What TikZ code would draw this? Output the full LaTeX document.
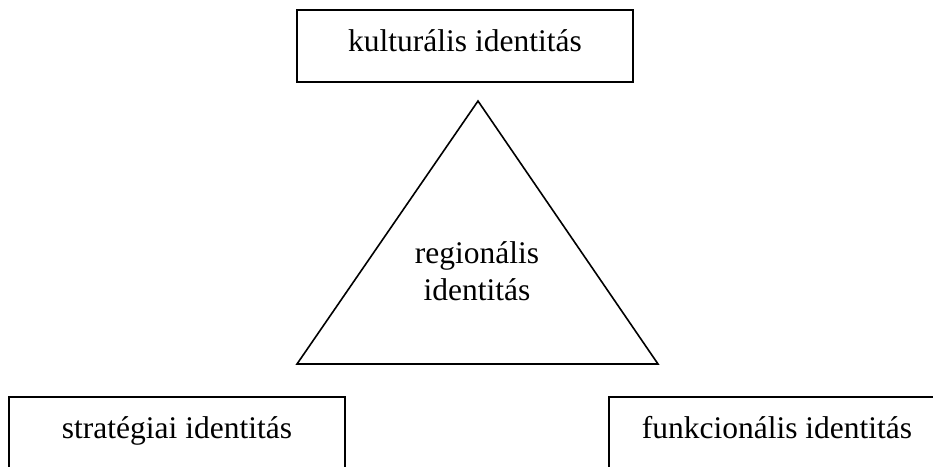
\documentclass[tikz,border=0pt]{standalone}
\usepackage{fontspec}
\setmainfont{Liberation Serif}
\tikzset{
  lbl/.style={font=\fontsize{31.5}{37}\selectfont, anchor=base, inner sep=0pt},
  ibox/.style={draw=black, line width=1.6pt},
  tri/.style={draw=black, line width=1.6pt, line join=miter}
}
\begin{document}
\begin{tikzpicture}[x=1pt,y=-1pt]
\useasboundingbox (0,0) rectangle (933,466);
% boxes
\draw[ibox] (297,10) rectangle (633,82);
\draw[ibox] (9,397) rectangle (345,469);
\draw[ibox] (609,397) rectangle (945,469);
% triangle
\draw[tri] (478,101) -- (297,364) -- (658,364) -- cycle;
% texts
\node[lbl] (kult) at (465,51) {kulturális identitás};
\node[lbl] (strat) at (177,438) {stratégiai identitás};
\node[lbl] (funk) at (777,438) {funkcionális identitás};
\node[lbl] (reg1) at (477,263) {regionális};
\node[lbl] (reg2) at (477,300) {identitás};
\end{tikzpicture}
\end{document}
